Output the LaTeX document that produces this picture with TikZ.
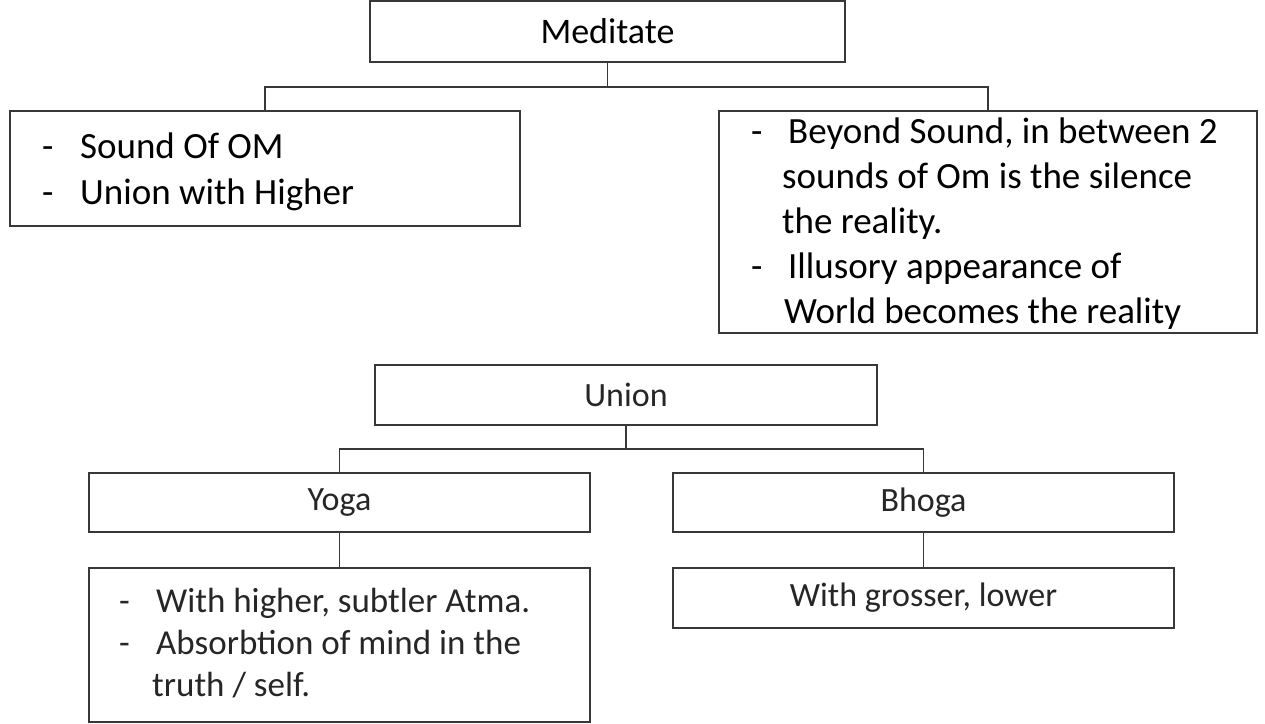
\documentclass[tikz,border=0pt]{standalone}
\usepackage{fontspec}
\setmainfont{Carlito}
\usetikzlibrary{positioning}
\newcommand\itemdash[1]{\makebox[#1][l]{-}}
\tikzset{
  box/.style={draw=black!78, line width=1.3pt, fill=white, rectangle, inner sep=0pt, outer sep=0pt, anchor=north west},
  conn/.style={draw=black!78, line width=1.3pt},
  bigtext/.style={font=\fontsize{36}{43}\selectfont},
  smalltext/.style={font=\fontsize{34}{41}\selectfont, text=black!85},
  listtext/.style={inner sep=0pt, anchor=base west}
}
\begin{document}
\begin{tikzpicture}[x=1pt,y=-1pt]
  \useasboundingbox (0,0) rectangle (1265,723);
  % upper tree
  \node[box, bigtext, minimum width=475, minimum height=61] (med) at (370,1) {Meditate};
  \node[box, minimum width=510, minimum height=115] (sound) at (10,111) {};
  \node[box, minimum width=538, minimum height=222] (beyond) at (719,111) {};
  \draw[conn] (med.south) -- ++(0,25) coordinate (medjoin);
  \draw[conn] (medjoin) -| (sound.north);
  \draw[conn] (medjoin) -| (beyond.north);
  \node[listtext, font=\fontsize{37}{46}\selectfont] (soundlist) at (42,158)
    {\begin{tabular}[t]{@{}l@{}}
      \itemdash{38pt}Sound Of OM\\
      \itemdash{38pt}Union with Higher
    \end{tabular}};
  \node[listtext, font=\fontsize{37}{45}\selectfont] (beyondlist) at (751,143)
    {\begin{tabular}[t]{@{}l@{}}
      \itemdash{37pt}Beyond Sound, in between 2\\
      \hspace*{31pt}sounds of Om is the silence\\
      \hspace*{31pt}the reality.\\
      \itemdash{37pt}Illusory appearance of\\
      \hspace*{33pt}World becomes the reality
    \end{tabular}};
  % lower tree
  \node[box, smalltext, minimum width=502, minimum height=60] (union) at (375,365) {Union};
  \node[box, smalltext, minimum width=501, minimum height=59] (yoga) at (89,473) {Yoga};
  \node[box, smalltext, minimum width=501, minimum height=59] (bhoga) at (673,473) {Bhoga};
  \node[box, minimum width=501, minimum height=154, below=36pt of yoga.south west, anchor=north west] (yogadetail) {};
  \node[box, smalltext, minimum width=501, minimum height=60, below=36pt of bhoga.south west, anchor=north west] (bhogadetail) {With grosser, lower};
  \draw[conn] (union.south) -- ++(0,24) coordinate (unionjoin);
  \draw[conn] (unionjoin) -| (yoga.north);
  \draw[conn] (unionjoin) -| (bhoga.north);
  \draw[conn] (yoga) -- (yogadetail);
  \draw[conn] (bhoga) -- (bhogadetail);
  \node[listtext, font=\fontsize{35}{42}\selectfont, text=black!85] (yogalist) at (119,612)
    {\begin{tabular}[t]{@{}l@{}}
      \itemdash{37pt}With higher, subtler Atma.\\
      \itemdash{37pt}Absorbtion of mind in the\\
      \hspace*{33pt}truth / self.
    \end{tabular}};
\end{tikzpicture}
\end{document}
